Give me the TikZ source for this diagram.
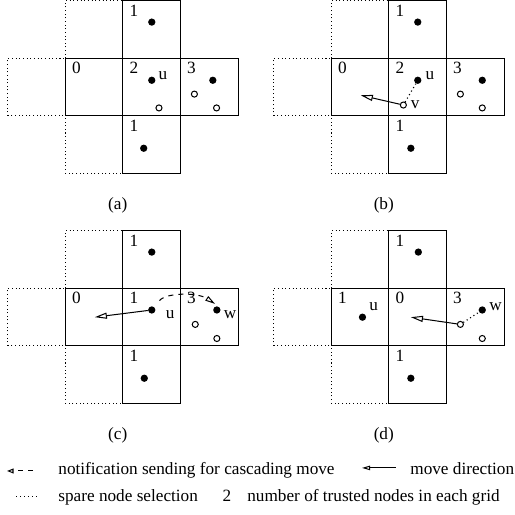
\documentclass[tikz,border=0pt]{standalone}
\usepackage{fontspec}
\setmainfont{Liberation Serif}
\usetikzlibrary{arrows.meta}

\tikzset{
	cell/.style={draw, line width=0.5pt},
	sparecell/.style={draw, line width=0.5pt, dash pattern=on 0.5pt off 1.3pt},
	active/.style={circle, fill=black, inner sep=0pt, minimum size=3.6pt},
	idle/.style={circle, draw, fill=white, line width=0.5pt, inner sep=0pt, minimum size=3pt},
	move/.style={line width=0.5pt, -{Triangle[open, length=6pt, width=3pt]}},
	notify/.style={line width=0.5pt, dash pattern=on 2.5pt off 2.5pt, -{Triangle[open, length=5pt, width=2.6pt]}},
	select/.style={line width=0.6pt, dash pattern=on 0.5pt off 1.5pt},
	tag/.style={inner sep=0pt}
}

\begin{document}
\begin{tikzpicture}[font=\fontsize{8.5}{10}\selectfont]
	\useasboundingbox (0,0) rectangle (8.941,8.924);
	%----------------------------------------------------
	% The cross of grids, once for each of the four cases
	%----------------------------------------------------
	\foreach \px/\py/\case/\nl/\nc in {2.135/6.910/a/0/2, 6.753/6.910/b/0/2, 2.135/2.917/c/0/1, 6.753/2.917/d/1/0} {
		\begin{scope}[shift={(\px,\py)}]
			\draw[sparecell] (-2,0) rectangle (-1,1);
			\draw[sparecell] (-1,1) rectangle (0,2);
			\draw[sparecell] (-1,-1) rectangle (0,0);
			\draw[cell] (0,1) rectangle (1,2);
			\draw[cell] (-1,0) rectangle (0,1);
			\draw[cell] (0,0) rectangle (1,1);
			\draw[cell] (1,0) rectangle (2,1);
			\draw[cell] (0,-1) rectangle (1,0);
			\node[tag] (top-\case) at (0.19,1.83) {1};
			\node[tag] (left-\case) at (-0.81,0.83) {\nl};
			\node[tag] (mid-\case) at (0.19,0.83) {\nc};
			\node[tag] (right-\case) at (1.19,0.83) {3};
			\node[tag] (bot-\case) at (0.19,-0.17) {1};
			\node (cap-\case) at (-0.09,-1.55) {(\case)};
		\end{scope}
	}

	%----------------------------------------------------
	% (a) grid 0 is empty
	%----------------------------------------------------
	\begin{scope}[shift={(2.135,6.910)}]
		\node[active] (t) at (0.50,1.63) {};
		\node[active] (u) at (0.50,0.62) {};
		\node[tag] at (0.695,0.707) {u};
		\node[idle] (c1) at (0.625,0.14) {};
		\node[active] (r1) at (1.56,0.62) {};
		\node[idle] (r2) at (1.24,0.38) {};
		\node[idle] (r3) at (1.625,0.14) {};
		\node[active] (b) at (0.36,-0.56) {};
	\end{scope}

	%----------------------------------------------------
	% (b) spare node v moves into grid 0
	%----------------------------------------------------
	\begin{scope}[shift={(6.753,6.910)}]
		\node[active] (t) at (0.50,1.63) {};
		\node[active] (u) at (0.50,0.62) {};
		\node[tag] at (0.712,0.70) {u};
		\node[idle] (v) at (0.25,0.19) {};
		\node[tag] at (0.457,0.196) {v};
		\node[active] (r1) at (1.62,0.62) {};
		\node[idle] (r2) at (1.24,0.38) {};
		\node[idle] (r3) at (1.62,0.14) {};
		\node[active] (b) at (0.38,-0.56) {};
		\coordinate (goal) at (-0.49,0.36);
		\draw[select] (v) -- (u);
		\draw[move] (v) -- (goal);
	\end{scope}

	%----------------------------------------------------
	% (c) u moves and notifies w
	%----------------------------------------------------
	\begin{scope}[shift={(2.135,2.917)}]
		\node[active] (t) at (0.50,1.63) {};
		\node[active] (u) at (0.50,0.625) {};
		\node[tag] at (0.82,0.55) {u};
		\node[active] (w) at (1.63,0.625) {};
		\node[tag] at (1.858,0.55) {w};
		\node[idle] (r2) at (1.255,0.375) {};
		\node[idle] (r3) at (1.63,0.13) {};
		\node[active] (b) at (0.37,-0.56) {};
		\coordinate (goal) at (-0.49,0.50);
		\coordinate (notified) at (1.60,0.73);
		\draw[move] (u) -- (goal);
		\draw[notify, shorten <=4pt] (u) .. controls (0.75,0.93) and (1.3,0.93) .. (notified);
	\end{scope}

	%----------------------------------------------------
	% (d) spare node of w's grid moves into grid 0
	%----------------------------------------------------
	\begin{scope}[shift={(6.753,2.917)}]
		\node[active] (t) at (0.51,1.63) {};
		\node[active] (u) at (-0.46,0.50) {};
		\node[tag] at (-0.266,0.69) {u};
		\node[active] (w) at (1.62,0.625) {};
		\node[tag] at (1.85,0.69) {w};
		\node[idle] (s) at (1.24,0.375) {};
		\node[idle] (r3) at (1.62,0.13) {};
		\node[active] (b) at (0.38,-0.56) {};
		\coordinate (goal) at (0.38,0.50);
		\draw[select] (s) -- (w);
		\draw[move] (s) -- (goal);
	\end{scope}

	%----------------------------------------------------
	% Legend
	%----------------------------------------------------
	\coordinate (n1) at (0.573,0.747);
	\coordinate (n0) at (0.122,0.747);
	\draw[notify, -{Triangle[open, length=3.2pt, width=2.4pt]}] (n1) -- (n0);
	\node[anchor=base west, inner sep=0pt] (notetext) at (1.007,0.686) {notification sending for cascading move};
	\coordinate (m1) at (6.875,0.80);
	\coordinate (m0) at (6.285,0.80);
	\draw[move, -{Triangle[open, length=4pt, width=2.2pt]}] (m1) -- (m0);
	\node[anchor=base west, inner sep=0pt] (movetext) at (7.118,0.69) {move direction};
	\coordinate (s0) at (0.278,0.30);
	\coordinate (s1) at (0.642,0.30);
	\draw[select] (s0) -- (s1);
	\node[anchor=base west, inner sep=0pt] (sparetext) at (1.007,0.217) {spare node selection};
	\node[anchor=base, inner sep=0pt] (countnum) at (3.94,0.217) {2};
	\node[anchor=base west, inner sep=0pt] (counttext) at (4.288,0.217) {number of trusted nodes in each grid};
\end{tikzpicture}
\end{document}
